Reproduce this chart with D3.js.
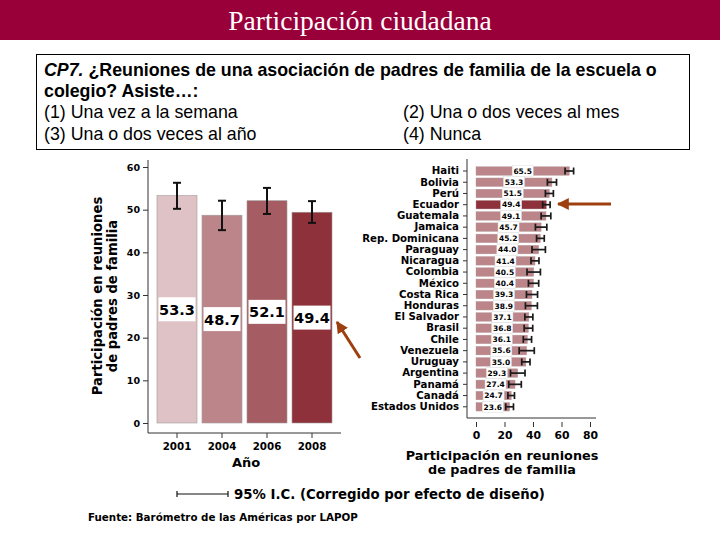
<!DOCTYPE html>
<html>
<head>
<meta charset="utf-8">
<script src="https://cdn.jsdelivr.net/npm/d3@7"></script>
<style>
  body { margin: 0; background: #fff; }
  svg { display: block; }
</style>
</head>
<body>
<svg id="chart" width="720" height="540"></svg>
<script>
// ---------- DATA ----------
const years = ["2001", "2004", "2006", "2008"];
const yearValues = [53.3, 48.7, 52.1, 49.4];
const yearLow = [50.2, 45.2, 49.0, 46.9];
const yearHigh = [56.3, 52.1, 55.1, 52.0];
const yearColors = ["#dfc2c5", "#bc8589", "#a55d63", "#8e313b"];
const yearTicks = [0, 10, 20, 30, 40, 50, 60];

const countries = ["Haiti", "Bolivia", "Perú", "Ecuador", "Guatemala", "Jamaica",
  "Rep. Dominicana", "Paraguay", "Nicaragua", "Colombia", "México", "Costa Rica",
  "Honduras", "El Salvador", "Brasil", "Chile", "Venezuela", "Uruguay",
  "Argentina", "Panamá", "Canadá", "Estados Unidos"];
const countryValues = [65.5, 53.3, 51.5, 49.4, 49.1, 45.7, 45.2, 44.0, 41.4, 40.5,
  40.4, 39.3, 38.9, 37.1, 36.8, 36.1, 35.6, 35.0, 29.3, 27.4, 24.7, 23.6];
const countryCI = [3.0, 3.2, 2.8, 2.6, 3.4, 4.0, 2.7, 4.7, 2.8, 4.7, 3.6, 3.9,
  4.2, 2.8, 3.0, 2.9, 5.3, 2.9, 5.1, 4.4, 2.3, 2.7];
const highlight = "Ecuador";
const countryTicks = [0, 20, 40, 60, 80];

// ---------- SETUP ----------
const svg = d3.select("#chart");
const FONT = "'Liberation Sans', Arial, sans-serif";
const CFONT = "'DejaVu Sans', Verdana, sans-serif";

// header band
svg.append("rect").attr("x", 0).attr("y", 0).attr("width", 720).attr("height", 40)
  .attr("fill", "#99003a");
svg.append("text").attr("x", 360).attr("y", 30).attr("text-anchor", "middle")
  .attr("font-family", "'Liberation Serif', 'DejaVu Serif', serif")
  .attr("font-size", 27.5).attr("fill", "#fff").text("Participación ciudadana");

// question box
svg.append("rect").attr("x", 36.5).attr("y", 54.5).attr("width", 653).attr("height", 95)
  .attr("fill", "#fff").attr("stroke", "#000").attr("stroke-width", 1);
const q1 = svg.append("text").attr("x", 44).attr("y", 76)
  .attr("font-family", FONT).attr("font-size", 17.8).attr("font-weight", "bold");
q1.append("tspan").attr("font-style", "italic").text("CP7.");
q1.append("tspan").text(" ¿Reuniones de una asociación de padres de familia de la escuela o");
svg.append("text").attr("x", 44).attr("y", 97).attr("font-family", FONT)
  .attr("font-size", 17.8).attr("font-weight", "bold").text("colegio? Asiste…:");
const opts = [["(1) Una vez a la semana", 44, 118], ["(2) Una o dos veces al mes", 403, 118],
  ["(3) Una o dos veces al año", 44, 140], ["(4) Nunca", 403, 140]];
opts.forEach(o => svg.append("text").attr("x", o[1]).attr("y", o[2])
  .attr("font-family", FONT).attr("font-size", 17.8).text(o[0]));

// ---------- LEFT CHART ----------
const xL = d3.scaleBand().domain(years).range([154.5, 334.5])
  .paddingInner(0.111).paddingOuter(0.0555);
const yL = d3.scaleLinear().domain([0, 60]).range([423, 167]);

const gL = svg.append("g");
gL.selectAll("rect.bar").data(years).join("rect").attr("class", "bar")
  .attr("x", d => xL(d)).attr("width", xL.bandwidth())
  .attr("y", (d, i) => yL(yearValues[i])).attr("height", (d, i) => yL(0) - yL(yearValues[i]))
  .attr("fill", (d, i) => yearColors[i]).attr("stroke", "#a09a9a").attr("stroke-width", 0.6);

// error bars
years.forEach((d, i) => {
  const cx = xL(d) + xL.bandwidth() / 2;
  const g = gL.append("g").attr("stroke", "#111").attr("stroke-width", 2);
  g.append("line").attr("x1", cx).attr("x2", cx).attr("y1", yL(yearLow[i])).attr("y2", yL(yearHigh[i]));
  g.append("line").attr("x1", cx - 4).attr("x2", cx + 4).attr("y1", yL(yearLow[i])).attr("y2", yL(yearLow[i]));
  g.append("line").attr("x1", cx - 4).attr("x2", cx + 4).attr("y1", yL(yearHigh[i])).attr("y2", yL(yearHigh[i]));
  // value label box
  const ly = yL(yearValues[i] / 2);
  gL.append("rect").attr("x", xL(d) + 1.5).attr("width", xL.bandwidth() - 3)
    .attr("y", ly - 12).attr("height", 24).attr("fill", "#fff");
  gL.append("text").attr("x", cx).attr("y", ly + 5.5).attr("text-anchor", "middle")
    .attr("font-family", CFONT).attr("font-weight", "bold").attr("font-size", 14.5)
    .attr("fill", "#000").text(yearValues[i].toFixed(1));
});

// y axis
const axL = gL.append("g").attr("transform", "translate(148,0)")
  .call(d3.axisLeft(yL).tickValues(yearTicks).tickSize(5).tickPadding(3).tickFormat(d3.format("d")));
axL.select(".domain").remove();
axL.selectAll("text").attr("font-family", CFONT).attr("font-weight", "bold").attr("font-size", 9.5);
axL.selectAll("line").attr("stroke", "#333");
gL.append("line").attr("x1", 148).attr("x2", 148).attr("y1", 160).attr("y2", 433)
  .attr("stroke", "#333").attr("stroke-width", 1);
// x axis
const axLx = gL.append("g").attr("transform", "translate(0,433)")
  .call(d3.axisBottom(xL).tickSize(5).tickPadding(5));
axLx.select(".domain").remove();
axLx.selectAll("text").attr("font-family", CFONT).attr("font-weight", "bold").attr("font-size", 10.3);
axLx.selectAll("line").attr("stroke", "#333");
gL.append("line").attr("x1", 148).attr("x2", 341).attr("y1", 433).attr("y2", 433)
  .attr("stroke", "#333").attr("stroke-width", 1);
gL.append("text").attr("x", 246).attr("y", 467).attr("text-anchor", "middle")
  .attr("font-family", CFONT).attr("font-weight", "bold").attr("font-size", 13).text("Año");
const yt = gL.append("text").attr("transform", "translate(102,296) rotate(-90)")
  .attr("text-anchor", "middle").attr("font-family", CFONT).attr("font-weight", "bold")
  .attr("font-size", 13.2);
yt.append("tspan").attr("x", 0).attr("dy", 0).text("Participación en reuniones");
yt.append("tspan").attr("x", 0).attr("dy", 15).text("de padres de familia");

// ---------- RIGHT CHART ----------
const yR = d3.scaleBand().domain(countries).range([165.4, 412.4]).paddingInner(0.24).paddingOuter(0.12);
const xR = d3.scaleLinear().domain([0, 80]).range([476, 590]);
const gR = svg.append("g");

gR.selectAll("rect.cbar").data(countries).join("rect").attr("class", "cbar")
  .attr("x", xR(0)).attr("y", d => yR(d)).attr("height", yR.bandwidth())
  .attr("width", (d, i) => xR(countryValues[i]) - xR(0))
  .attr("fill", d => d === highlight ? "#8e313b" : "#bc8589")
  .attr("stroke", "#b09a9c").attr("stroke-width", 0.4);

countries.forEach((d, i) => {
  const cy = yR(d) + yR.bandwidth() / 2;
  const v = countryValues[i];
  const lo = xR(v - countryCI[i]), hi = xR(v + countryCI[i]);
  const g = gR.append("g").attr("stroke", "#1a1a1a").attr("stroke-width", 1.7);
  g.append("line").attr("x1", lo).attr("x2", hi).attr("y1", cy).attr("y2", cy);
  g.append("line").attr("x1", lo).attr("x2", lo).attr("y1", cy - 3.5).attr("y2", cy + 3.5);
  g.append("line").attr("x1", hi).attr("x2", hi).attr("y1", cy - 3.5).attr("y2", cy + 3.5);
  const lx = xR(v / 2);
  gR.append("rect").attr("x", lx - 10.5).attr("width", 21).attr("y", cy - 5.5).attr("height", 11)
    .attr("fill", "#fff").attr("stroke", "#ddd").attr("stroke-width", 0.5);
  gR.append("text").attr("x", lx).attr("y", cy + 2.8).attr("text-anchor", "middle")
    .attr("font-family", CFONT).attr("font-weight", "bold").attr("font-size", 7.5)
    .text(v.toFixed(1));
});

const axR = gR.append("g").attr("transform", "translate(467,0)")
  .call(d3.axisLeft(yR).tickSize(4).tickPadding(4));
axR.select(".domain").remove();
axR.selectAll("text").attr("font-family", CFONT).attr("font-weight", "bold").attr("font-size", 10.2);
axR.selectAll("line").attr("stroke", "#333");
gR.append("line").attr("x1", 467).attr("x2", 467).attr("y1", 159).attr("y2", 418)
  .attr("stroke", "#333");
const axRx = gR.append("g").attr("transform", "translate(0,422)")
  .call(d3.axisBottom(xR).tickValues(countryTicks).tickSize(5).tickPadding(4).tickFormat(d3.format("d")));
axRx.select(".domain").remove();
axRx.selectAll("text").attr("font-family", CFONT).attr("font-weight", "bold").attr("font-size", 10.8);
axRx.selectAll("line").attr("stroke", "#333");
gR.append("line").attr("x1", 467).attr("x2", 596).attr("y1", 418).attr("y2", 418)
  .attr("stroke", "#333");
const xt = gR.append("text").attr("x", 502).attr("y", 460).attr("text-anchor", "middle")
  .attr("font-family", CFONT).attr("font-weight", "bold").attr("font-size", 12.8);
xt.append("tspan").attr("x", 502).attr("dy", 0).text("Participación en reuniones");
xt.append("tspan").attr("x", 502).attr("dy", 14).text("de padres de familia");

// ---------- LEGEND / SOURCE ----------
const lg = svg.append("g").attr("stroke", "#111").attr("stroke-width", 1.2);
lg.append("line").attr("x1", 177).attr("x2", 228).attr("y1", 494).attr("y2", 494);
lg.append("line").attr("x1", 177).attr("x2", 177).attr("y1", 491).attr("y2", 497);
lg.append("line").attr("x1", 228).attr("x2", 228).attr("y1", 491).attr("y2", 497);
svg.append("text").attr("x", 234).attr("y", 499).attr("font-family", CFONT)
  .attr("font-weight", "bold").attr("font-size", 13.3)
  .text("95% I.C. (Corregido por efecto de diseño)");
svg.append("text").attr("x", 88).attr("y", 521).attr("font-family", CFONT)
  .attr("font-weight", "bold").attr("font-size", 10.3)
  .text("Fuente: Barómetro de las Américas por LAPOP");

// ---------- ARROWS ----------
const defs = svg.append("defs");
defs.append("marker").attr("id", "ah").attr("viewBox", "0 0 10 10").attr("refX", 9).attr("refY", 5)
  .attr("markerWidth", 4).attr("markerHeight", 4).attr("orient", "auto")
  .append("path").attr("d", "M0,0 L10,5 L0,10 Z").attr("fill", "#9e3f10");
svg.append("line").attr("x1", 611).attr("y1", 204).attr("x2", 558).attr("y2", 204)
  .attr("stroke", "#9e3f10").attr("stroke-width", 3).attr("marker-end", "url(#ah)");
svg.append("line").attr("x1", 360).attr("y1", 358).attr("x2", 337).attr("y2", 322)
  .attr("stroke", "#9e3f10").attr("stroke-width", 3).attr("marker-end", "url(#ah)");
</script>
</body>
</html>
